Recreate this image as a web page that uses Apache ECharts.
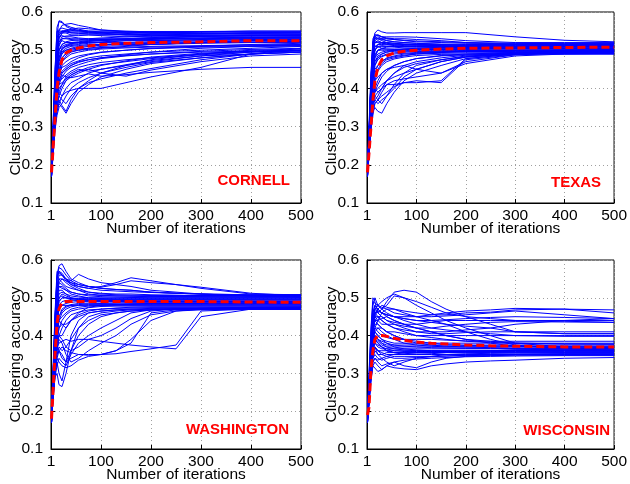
<!DOCTYPE html>
<html><head><meta charset="utf-8">
<script src="https://cdn.jsdelivr.net/npm/echarts@6/dist/echarts.min.js"></script>
<style>html,body{margin:0;padding:0;background:#fff}#c{width:630px;height:484px}</style>
</head><body><div id="c"></div>
<script>
// iteration sample points
const iterA = [1,4,8,12,16,22,30,40,55,75,100,150,200,300,400,500];
const iterB = [1,4,8,12,16,22,30,40,55,75,100,130,160,200,250,300,400,500];
const xTicks = [1,100,200,300,400,500];
const yTicks = [0.1,0.2,0.3,0.4,0.5,0.6];
const panelNames = ['CORNELL','TEXAS','WASHINGTON','WISCONSIN'];

const cornellRuns = [
[0.19,0.29,0.44,0.56,0.575,0.572,0.565,0.56,0.555,0.55,0.548,0.545,0.545,0.545,0.545,0.545],
[0.18,0.28,0.42,0.54,0.577,0.575,0.562,0.556,0.552,0.548,0.545,0.54,0.54,0.542,0.545,0.546],
[0.20,0.30,0.45,0.55,0.555,0.55,0.548,0.545,0.545,0.545,0.543,0.54,0.538,0.54,0.54,0.54],
[0.19,0.27,0.40,0.51,0.55,0.565,0.568,0.57,0.565,0.56,0.553,0.548,0.545,0.548,0.55,0.55],
[0.17,0.26,0.39,0.49,0.53,0.545,0.545,0.54,0.54,0.54,0.538,0.535,0.535,0.536,0.538,0.538],
[0.18,0.28,0.41,0.51,0.535,0.538,0.535,0.535,0.532,0.53,0.53,0.53,0.532,0.535,0.535,0.535],
[0.19,0.26,0.37,0.46,0.51,0.53,0.532,0.53,0.53,0.528,0.528,0.53,0.53,0.532,0.534,0.535],
[0.20,0.27,0.38,0.47,0.515,0.525,0.52,0.52,0.522,0.525,0.527,0.528,0.53,0.53,0.53,0.53],
[0.18,0.25,0.36,0.45,0.50,0.515,0.52,0.52,0.52,0.52,0.522,0.525,0.525,0.528,0.53,0.53],
[0.17,0.24,0.34,0.43,0.48,0.505,0.51,0.512,0.515,0.518,0.52,0.52,0.522,0.525,0.528,0.528],
[0.19,0.26,0.35,0.43,0.47,0.49,0.50,0.505,0.51,0.512,0.515,0.518,0.52,0.522,0.525,0.525],
[0.18,0.25,0.33,0.40,0.44,0.47,0.485,0.495,0.50,0.505,0.51,0.512,0.515,0.52,0.52,0.522],
[0.18,0.24,0.32,0.39,0.43,0.46,0.47,0.478,0.485,0.49,0.495,0.5,0.505,0.51,0.515,0.518],
[0.19,0.26,0.34,0.40,0.43,0.445,0.455,0.465,0.472,0.48,0.485,0.49,0.495,0.50,0.505,0.51],
[0.17,0.23,0.31,0.37,0.41,0.43,0.445,0.455,0.462,0.47,0.478,0.485,0.49,0.497,0.502,0.505],
[0.18,0.24,0.32,0.38,0.42,0.425,0.435,0.445,0.455,0.462,0.468,0.475,0.48,0.49,0.497,0.50],
[0.19,0.25,0.31,0.35,0.38,0.40,0.42,0.435,0.445,0.455,0.462,0.47,0.478,0.488,0.495,0.498],
[0.18,0.23,0.30,0.34,0.36,0.38,0.40,0.415,0.425,0.44,0.45,0.462,0.473,0.485,0.49,0.495],
[0.17,0.22,0.29,0.33,0.35,0.36,0.38,0.40,0.415,0.428,0.44,0.455,0.468,0.48,0.49,0.495],
[0.18,0.24,0.31,0.35,0.37,0.355,0.34,0.37,0.40,0.415,0.425,0.44,0.452,0.475,0.49,0.50],
[0.19,0.25,0.33,0.37,0.39,0.38,0.39,0.395,0.40,0.40,0.40,0.415,0.43,0.455,0.49,0.505],
[0.18,0.24,0.33,0.39,0.42,0.435,0.43,0.428,0.432,0.438,0.432,0.436,0.442,0.45,0.455,0.455],
[0.18,0.26,0.35,0.40,0.41,0.415,0.425,0.435,0.445,0.45,0.44,0.432,0.448,0.47,0.485,0.49],
[0.17,0.23,0.30,0.34,0.36,0.35,0.335,0.36,0.39,0.41,0.43,0.45,0.465,0.48,0.49,0.495],
[0.19,0.28,0.41,0.50,0.54,0.55,0.55,0.548,0.548,0.546,0.546,0.546,0.546,0.548,0.548,0.548],
[0.20,0.30,0.44,0.53,0.555,0.558,0.555,0.552,0.55,0.548,0.546,0.544,0.54,0.538,0.538,0.54],
[0.18,0.27,0.39,0.48,0.52,0.535,0.537,0.538,0.538,0.54,0.54,0.54,0.542,0.543,0.543,0.543],
[0.19,0.26,0.37,0.46,0.50,0.515,0.522,0.525,0.527,0.53,0.532,0.535,0.537,0.539,0.54,0.54],
[0.18,0.25,0.35,0.43,0.47,0.495,0.505,0.51,0.512,0.515,0.515,0.515,0.515,0.518,0.52,0.52],
[0.17,0.24,0.34,0.42,0.46,0.48,0.492,0.5,0.503,0.505,0.507,0.508,0.51,0.512,0.514,0.515],
[0.18,0.26,0.36,0.44,0.48,0.5,0.51,0.515,0.517,0.52,0.52,0.525,0.525,0.527,0.527,0.528],
[0.18,0.25,0.34,0.42,0.45,0.44,0.45,0.46,0.47,0.475,0.48,0.488,0.495,0.505,0.51,0.512],
[0.18,0.27,0.40,0.50,0.54,0.548,0.548,0.546,0.544,0.543,0.542,0.542,0.543,0.544,0.546,0.547],
[0.19,0.28,0.42,0.52,0.545,0.55,0.552,0.553,0.552,0.55,0.55,0.549,0.549,0.549,0.55,0.55],
[0.17,0.25,0.36,0.44,0.48,0.495,0.5,0.503,0.506,0.51,0.513,0.516,0.518,0.52,0.522,0.523],
[0.18,0.26,0.37,0.45,0.49,0.505,0.512,0.517,0.52,0.523,0.525,0.527,0.528,0.53,0.532,0.533],
[0.19,0.25,0.35,0.42,0.45,0.47,0.48,0.49,0.495,0.5,0.503,0.506,0.508,0.51,0.512,0.513],
[0.18,0.24,0.33,0.39,0.42,0.44,0.45,0.46,0.468,0.475,0.48,0.486,0.49,0.495,0.498,0.5],
[0.17,0.24,0.32,0.38,0.40,0.41,0.42,0.43,0.44,0.45,0.46,0.472,0.482,0.492,0.497,0.498],
[0.18,0.26,0.38,0.48,0.53,0.545,0.55,0.555,0.558,0.556,0.553,0.55,0.548,0.545,0.543,0.542],
[0.19,0.27,0.39,0.48,0.52,0.53,0.53,0.528,0.526,0.526,0.527,0.528,0.53,0.532,0.533,0.534],
[0.18,0.25,0.34,0.41,0.44,0.455,0.46,0.47,0.48,0.488,0.494,0.5,0.504,0.508,0.51,0.511],
[0.17,0.23,0.31,0.36,0.38,0.37,0.36,0.38,0.40,0.42,0.44,0.46,0.47,0.485,0.495,0.5],
[0.18,0.24,0.33,0.38,0.39,0.41,0.43,0.44,0.45,0.445,0.45,0.46,0.475,0.49,0.5,0.503],
[0.19,0.26,0.36,0.43,0.46,0.48,0.49,0.497,0.5,0.502,0.505,0.51,0.515,0.52,0.525,0.527],
[0.18,0.27,0.39,0.47,0.5,0.51,0.515,0.518,0.52,0.523,0.526,0.53,0.533,0.536,0.538,0.538]
];
const cornellMean = [0.18,0.24,0.32,0.40,0.44,0.475,0.493,0.5,0.506,0.511,0.515,0.518,0.52,0.522,0.525,0.525];

const texasRuns = [
[0.18,0.28,0.42,0.52,0.545,0.553,0.548,0.545,0.545,0.546,0.546,0.546,0.546,0.535,0.526,0.522],
[0.19,0.29,0.43,0.53,0.54,0.54,0.535,0.53,0.528,0.525,0.522,0.52,0.518,0.518,0.518,0.518],
[0.17,0.27,0.41,0.51,0.535,0.54,0.535,0.532,0.53,0.53,0.528,0.525,0.52,0.515,0.515,0.515],
[0.18,0.28,0.42,0.515,0.53,0.53,0.528,0.525,0.522,0.52,0.518,0.515,0.512,0.512,0.512,0.512],
[0.20,0.30,0.44,0.52,0.525,0.522,0.52,0.518,0.516,0.515,0.513,0.512,0.51,0.51,0.51,0.51],
[0.18,0.27,0.40,0.49,0.52,0.525,0.52,0.515,0.512,0.51,0.51,0.508,0.507,0.507,0.508,0.508],
[0.19,0.26,0.38,0.47,0.50,0.51,0.512,0.51,0.508,0.506,0.505,0.505,0.505,0.505,0.505,0.505],
[0.17,0.25,0.36,0.45,0.49,0.50,0.503,0.503,0.502,0.502,0.502,0.502,0.502,0.503,0.503,0.503],
[0.18,0.26,0.37,0.44,0.47,0.485,0.49,0.495,0.497,0.498,0.5,0.5,0.5,0.5,0.5,0.5],
[0.19,0.25,0.35,0.43,0.46,0.475,0.483,0.488,0.49,0.492,0.494,0.495,0.496,0.497,0.497,0.497],
[0.18,0.24,0.33,0.40,0.44,0.46,0.47,0.478,0.483,0.487,0.49,0.492,0.493,0.494,0.495,0.495],
[0.17,0.23,0.32,0.38,0.42,0.445,0.46,0.47,0.477,0.482,0.486,0.489,0.49,0.492,0.493,0.493],
[0.18,0.24,0.31,0.36,0.39,0.41,0.43,0.445,0.46,0.47,0.478,0.485,0.488,0.49,0.49,0.49],
[0.19,0.25,0.32,0.36,0.37,0.38,0.40,0.42,0.44,0.455,0.465,0.475,0.485,0.49,0.492,0.492],
[0.18,0.23,0.30,0.34,0.35,0.34,0.335,0.36,0.39,0.42,0.44,0.46,0.478,0.49,0.495,0.496],
[0.17,0.22,0.29,0.33,0.36,0.37,0.38,0.39,0.405,0.415,0.42,0.415,0.475,0.488,0.493,0.495],
[0.18,0.24,0.31,0.36,0.38,0.39,0.40,0.41,0.41,0.415,0.415,0.42,0.478,0.49,0.495,0.498],
[0.19,0.24,0.32,0.37,0.40,0.42,0.44,0.45,0.455,0.46,0.45,0.44,0.47,0.488,0.495,0.5],
[0.17,0.23,0.30,0.35,0.37,0.36,0.37,0.38,0.40,0.43,0.45,0.47,0.482,0.492,0.5,0.502],
[0.18,0.26,0.36,0.44,0.48,0.5,0.505,0.508,0.51,0.51,0.51,0.51,0.51,0.51,0.512,0.512],
[0.19,0.27,0.39,0.48,0.51,0.515,0.515,0.514,0.514,0.514,0.514,0.514,0.514,0.514,0.514,0.514],
[0.18,0.28,0.41,0.50,0.525,0.53,0.53,0.53,0.528,0.526,0.524,0.522,0.52,0.518,0.517,0.517],
[0.17,0.25,0.35,0.42,0.46,0.48,0.49,0.495,0.5,0.503,0.505,0.507,0.508,0.508,0.508,0.508],
[0.18,0.24,0.34,0.40,0.43,0.45,0.465,0.475,0.48,0.485,0.49,0.495,0.498,0.5,0.5,0.5],
[0.19,0.26,0.37,0.45,0.485,0.5,0.5,0.5,0.5,0.498,0.497,0.497,0.497,0.498,0.498,0.498],
[0.18,0.25,0.33,0.38,0.40,0.39,0.40,0.42,0.44,0.46,0.47,0.48,0.487,0.49,0.49,0.49],
[0.19,0.28,0.42,0.52,0.54,0.538,0.535,0.535,0.535,0.535,0.534,0.53,0.525,0.52,0.52,0.52],
[0.18,0.27,0.39,0.47,0.5,0.508,0.51,0.51,0.51,0.509,0.508,0.507,0.506,0.506,0.506,0.506],
[0.19,0.28,0.41,0.5,0.52,0.52,0.518,0.516,0.514,0.512,0.511,0.51,0.509,0.509,0.51,0.51],
[0.17,0.25,0.36,0.44,0.47,0.48,0.485,0.49,0.493,0.495,0.497,0.498,0.499,0.5,0.501,0.501],
[0.18,0.26,0.37,0.45,0.48,0.49,0.495,0.498,0.5,0.501,0.502,0.503,0.504,0.505,0.505,0.505],
[0.19,0.25,0.34,0.40,0.42,0.43,0.44,0.45,0.46,0.47,0.478,0.486,0.49,0.494,0.496,0.497],
[0.18,0.24,0.32,0.37,0.39,0.40,0.41,0.42,0.43,0.44,0.45,0.47,0.482,0.49,0.493,0.494],
[0.17,0.23,0.30,0.35,0.36,0.37,0.39,0.41,0.42,0.425,0.43,0.44,0.465,0.485,0.49,0.492],
[0.18,0.28,0.42,0.52,0.535,0.53,0.525,0.52,0.518,0.516,0.515,0.514,0.513,0.513,0.514,0.515],
[0.19,0.27,0.40,0.49,0.51,0.51,0.505,0.503,0.503,0.503,0.503,0.503,0.503,0.504,0.504,0.504],
[0.18,0.25,0.35,0.42,0.45,0.46,0.47,0.48,0.485,0.49,0.492,0.494,0.496,0.497,0.498,0.499],
[0.17,0.24,0.32,0.37,0.38,0.37,0.36,0.38,0.41,0.44,0.46,0.475,0.483,0.49,0.493,0.494],
[0.18,0.26,0.38,0.47,0.5,0.515,0.52,0.52,0.518,0.516,0.514,0.512,0.511,0.51,0.51,0.51],
[0.19,0.27,0.40,0.50,0.53,0.535,0.53,0.525,0.522,0.52,0.518,0.516,0.515,0.515,0.516,0.517]
];
const texasMean = [0.18,0.23,0.30,0.37,0.42,0.455,0.475,0.485,0.493,0.497,0.5,0.503,0.505,0.506,0.507,0.508];

const washingtonRuns = [
[0.18,0.30,0.45,0.56,0.585,0.59,0.57,0.55,0.54,0.53,0.525,0.522,0.52,0.515,0.512,0.51,0.505,0.505],
[0.17,0.29,0.44,0.555,0.58,0.575,0.56,0.545,0.535,0.53,0.525,0.522,0.52,0.515,0.512,0.51,0.508,0.508],
[0.19,0.31,0.46,0.57,0.575,0.56,0.55,0.545,0.562,0.55,0.54,0.535,0.53,0.52,0.515,0.51,0.505,0.502],
[0.18,0.28,0.42,0.53,0.56,0.56,0.55,0.54,0.53,0.525,0.53,0.54,0.553,0.545,0.535,0.528,0.512,0.505],
[0.17,0.27,0.40,0.50,0.54,0.55,0.545,0.54,0.535,0.53,0.528,0.535,0.545,0.54,0.535,0.525,0.51,0.508],
[0.18,0.29,0.43,0.53,0.55,0.54,0.53,0.525,0.52,0.515,0.512,0.51,0.51,0.508,0.507,0.506,0.505,0.505],
[0.19,0.28,0.41,0.51,0.53,0.525,0.52,0.515,0.51,0.508,0.506,0.505,0.505,0.504,0.503,0.503,0.502,0.502],
[0.18,0.27,0.39,0.48,0.51,0.515,0.51,0.505,0.502,0.5,0.5,0.5,0.5,0.5,0.5,0.5,0.5,0.5],
[0.17,0.26,0.37,0.46,0.49,0.50,0.50,0.498,0.497,0.497,0.497,0.497,0.497,0.497,0.497,0.497,0.497,0.497],
[0.18,0.25,0.35,0.44,0.48,0.49,0.493,0.494,0.494,0.494,0.494,0.494,0.494,0.494,0.494,0.494,0.494,0.494],
[0.19,0.26,0.36,0.43,0.47,0.48,0.485,0.488,0.49,0.49,0.49,0.49,0.49,0.49,0.49,0.49,0.49,0.49],
[0.18,0.25,0.34,0.41,0.45,0.47,0.478,0.482,0.485,0.486,0.486,0.486,0.486,0.486,0.486,0.486,0.486,0.486],
[0.17,0.24,0.33,0.40,0.44,0.46,0.47,0.476,0.48,0.482,0.482,0.482,0.482,0.482,0.482,0.482,0.482,0.482],
[0.18,0.25,0.32,0.38,0.42,0.44,0.455,0.465,0.47,0.474,0.477,0.478,0.478,0.478,0.478,0.478,0.478,0.478],
[0.19,0.24,0.31,0.36,0.40,0.42,0.44,0.455,0.462,0.468,0.47,0.472,0.473,0.474,0.474,0.474,0.474,0.474],
[0.18,0.23,0.30,0.33,0.30,0.28,0.33,0.40,0.44,0.46,0.465,0.468,0.47,0.47,0.47,0.47,0.47,0.47],
[0.17,0.24,0.29,0.30,0.27,0.265,0.30,0.36,0.42,0.45,0.46,0.465,0.468,0.47,0.47,0.47,0.47,0.47],
[0.18,0.25,0.31,0.34,0.33,0.32,0.315,0.32,0.335,0.345,0.35,0.352,0.358,0.365,0.375,0.465,0.47,0.472],
[0.17,0.24,0.30,0.34,0.36,0.37,0.36,0.355,0.35,0.348,0.35,0.36,0.38,0.46,0.468,0.47,0.47,0.47],
[0.18,0.25,0.32,0.37,0.38,0.385,0.39,0.385,0.39,0.39,0.385,0.38,0.375,0.37,0.365,0.45,0.47,0.472],
[0.19,0.26,0.33,0.38,0.40,0.39,0.37,0.36,0.37,0.39,0.40,0.42,0.445,0.465,0.47,0.472,0.475,0.475],
[0.18,0.24,0.31,0.35,0.36,0.35,0.33,0.34,0.35,0.35,0.35,0.36,0.39,0.44,0.465,0.47,0.472,0.474],
[0.17,0.23,0.29,0.32,0.34,0.33,0.32,0.35,0.38,0.40,0.42,0.44,0.46,0.468,0.47,0.472,0.475,0.476],
[0.19,0.27,0.38,0.46,0.50,0.51,0.505,0.50,0.498,0.497,0.496,0.496,0.496,0.496,0.496,0.496,0.496,0.496],
[0.18,0.26,0.36,0.42,0.44,0.43,0.42,0.44,0.46,0.475,0.48,0.482,0.484,0.485,0.485,0.485,0.485,0.485],
[0.18,0.29,0.44,0.55,0.57,0.56,0.545,0.535,0.53,0.525,0.52,0.518,0.516,0.514,0.512,0.51,0.508,0.508],
[0.17,0.25,0.33,0.37,0.36,0.34,0.33,0.36,0.40,0.43,0.45,0.46,0.465,0.468,0.47,0.47,0.47,0.47],
[0.18,0.28,0.42,0.52,0.55,0.55,0.54,0.53,0.52,0.51,0.507,0.505,0.504,0.503,0.503,0.503,0.503,0.503],
[0.19,0.29,0.44,0.55,0.57,0.565,0.55,0.535,0.525,0.515,0.51,0.508,0.507,0.506,0.506,0.506,0.506,0.506],
[0.17,0.26,0.38,0.47,0.5,0.505,0.5,0.495,0.492,0.492,0.492,0.492,0.492,0.492,0.492,0.492,0.492,0.492],
[0.18,0.25,0.36,0.44,0.47,0.48,0.48,0.48,0.48,0.48,0.48,0.48,0.48,0.48,0.48,0.48,0.48,0.48],
[0.19,0.27,0.39,0.48,0.52,0.52,0.51,0.5,0.495,0.493,0.492,0.491,0.49,0.49,0.49,0.49,0.488,0.488],
[0.18,0.26,0.37,0.45,0.49,0.5,0.5,0.498,0.496,0.495,0.494,0.493,0.492,0.491,0.49,0.49,0.49,0.49],
[0.17,0.24,0.32,0.38,0.40,0.40,0.42,0.44,0.455,0.465,0.47,0.473,0.475,0.476,0.476,0.476,0.476,0.476],
[0.18,0.25,0.33,0.39,0.42,0.43,0.43,0.44,0.45,0.46,0.465,0.468,0.47,0.472,0.472,0.472,0.472,0.472],
[0.19,0.26,0.34,0.40,0.44,0.45,0.46,0.47,0.475,0.478,0.48,0.482,0.483,0.484,0.484,0.484,0.484,0.484],
[0.18,0.24,0.31,0.35,0.37,0.36,0.37,0.39,0.42,0.44,0.455,0.46,0.465,0.468,0.47,0.47,0.47,0.47],
[0.17,0.23,0.30,0.36,0.39,0.38,0.35,0.33,0.34,0.36,0.38,0.40,0.43,0.455,0.465,0.468,0.47,0.47],
[0.18,0.27,0.40,0.50,0.53,0.53,0.52,0.51,0.505,0.5,0.498,0.497,0.497,0.497,0.497,0.497,0.497,0.497],
[0.19,0.28,0.41,0.51,0.54,0.535,0.525,0.515,0.51,0.505,0.503,0.502,0.501,0.5,0.5,0.5,0.5,0.5],
[0.18,0.25,0.35,0.42,0.45,0.465,0.475,0.48,0.482,0.484,0.485,0.486,0.487,0.487,0.487,0.487,0.487,0.487]
];
const washingtonMean = [0.18,0.25,0.35,0.43,0.47,0.488,0.49,0.49,0.49,0.49,0.49,0.49,0.49,0.49,0.49,0.49,0.489,0.488];

const wisconsinRuns = [
[0.19,0.30,0.42,0.50,0.49,0.46,0.47,0.49,0.515,0.52,0.515,0.49,0.47,0.45,0.43,0.41,0.405,0.405],
[0.18,0.28,0.40,0.48,0.50,0.48,0.47,0.48,0.505,0.50,0.49,0.475,0.46,0.45,0.445,0.44,0.44,0.44],
[0.19,0.29,0.41,0.49,0.495,0.48,0.475,0.47,0.47,0.465,0.46,0.455,0.455,0.46,0.462,0.468,0.47,0.468],
[0.18,0.27,0.38,0.46,0.48,0.47,0.46,0.455,0.45,0.45,0.45,0.455,0.46,0.465,0.468,0.472,0.47,0.46],
[0.17,0.26,0.37,0.44,0.46,0.465,0.46,0.455,0.45,0.445,0.44,0.44,0.442,0.445,0.448,0.45,0.448,0.445],
[0.18,0.27,0.38,0.45,0.47,0.46,0.45,0.44,0.435,0.43,0.43,0.435,0.44,0.44,0.44,0.44,0.438,0.435],
[0.19,0.26,0.36,0.43,0.45,0.44,0.43,0.43,0.43,0.425,0.42,0.42,0.425,0.43,0.435,0.437,0.436,0.435],
[0.18,0.25,0.35,0.42,0.44,0.45,0.45,0.44,0.43,0.42,0.41,0.405,0.405,0.408,0.41,0.41,0.41,0.41],
[0.17,0.24,0.34,0.41,0.43,0.43,0.42,0.41,0.41,0.405,0.40,0.40,0.40,0.40,0.40,0.40,0.40,0.40],
[0.18,0.25,0.34,0.40,0.42,0.41,0.40,0.395,0.39,0.39,0.39,0.39,0.388,0.386,0.385,0.385,0.385,0.385],
[0.19,0.24,0.33,0.39,0.41,0.40,0.39,0.385,0.38,0.38,0.38,0.38,0.38,0.38,0.38,0.38,0.38,0.38],
[0.18,0.23,0.32,0.38,0.40,0.39,0.38,0.375,0.375,0.375,0.375,0.375,0.375,0.375,0.375,0.375,0.375,0.375],
[0.17,0.23,0.31,0.37,0.39,0.385,0.375,0.37,0.37,0.37,0.37,0.37,0.37,0.37,0.37,0.37,0.37,0.37],
[0.18,0.24,0.31,0.36,0.38,0.37,0.365,0.365,0.365,0.365,0.365,0.365,0.365,0.365,0.365,0.365,0.365,0.365],
[0.19,0.23,0.30,0.35,0.37,0.36,0.36,0.36,0.36,0.36,0.36,0.36,0.36,0.36,0.36,0.36,0.36,0.36],
[0.18,0.22,0.29,0.34,0.36,0.35,0.35,0.355,0.355,0.355,0.355,0.355,0.355,0.355,0.355,0.355,0.355,0.355],
[0.17,0.22,0.28,0.33,0.34,0.335,0.34,0.345,0.35,0.35,0.35,0.35,0.35,0.35,0.35,0.35,0.35,0.35],
[0.18,0.22,0.28,0.32,0.33,0.32,0.31,0.32,0.33,0.32,0.315,0.33,0.34,0.345,0.347,0.348,0.348,0.348],
[0.19,0.23,0.29,0.32,0.32,0.305,0.31,0.32,0.315,0.312,0.31,0.32,0.325,0.33,0.333,0.335,0.34,0.342],
[0.18,0.26,0.37,0.45,0.47,0.48,0.49,0.50,0.51,0.5,0.48,0.46,0.44,0.42,0.40,0.38,0.37,0.368],
[0.17,0.25,0.36,0.43,0.45,0.47,0.48,0.475,0.47,0.46,0.45,0.44,0.43,0.41,0.39,0.375,0.365,0.362],
[0.18,0.24,0.35,0.42,0.44,0.44,0.445,0.45,0.44,0.43,0.42,0.41,0.4,0.39,0.38,0.372,0.368,0.366],
[0.19,0.25,0.34,0.40,0.41,0.42,0.42,0.41,0.40,0.39,0.38,0.375,0.372,0.37,0.368,0.365,0.362,0.36],
[0.18,0.23,0.31,0.36,0.37,0.35,0.34,0.33,0.32,0.33,0.34,0.345,0.35,0.352,0.353,0.354,0.355,0.355],
[0.17,0.24,0.33,0.39,0.42,0.44,0.46,0.47,0.46,0.455,0.45,0.45,0.452,0.455,0.46,0.465,0.455,0.445],
[0.18,0.25,0.35,0.43,0.46,0.45,0.44,0.43,0.42,0.415,0.41,0.41,0.41,0.415,0.42,0.43,0.44,0.445],
[0.19,0.24,0.32,0.38,0.39,0.38,0.37,0.36,0.355,0.35,0.35,0.352,0.355,0.358,0.36,0.362,0.362,0.362],
[0.18,0.23,0.30,0.34,0.35,0.34,0.335,0.34,0.345,0.345,0.345,0.345,0.346,0.347,0.348,0.35,0.352,0.352],
[0.18,0.24,0.33,0.39,0.41,0.40,0.39,0.38,0.375,0.372,0.37,0.368,0.367,0.366,0.366,0.366,0.366,0.366],
[0.19,0.25,0.34,0.40,0.42,0.42,0.41,0.40,0.39,0.38,0.375,0.372,0.37,0.37,0.37,0.37,0.37,0.37],
[0.17,0.23,0.31,0.36,0.38,0.375,0.37,0.365,0.36,0.358,0.358,0.358,0.358,0.358,0.358,0.358,0.358,0.358],
[0.18,0.22,0.30,0.35,0.37,0.36,0.355,0.35,0.35,0.352,0.354,0.355,0.356,0.357,0.358,0.36,0.362,0.362],
[0.19,0.26,0.36,0.43,0.46,0.47,0.46,0.45,0.44,0.43,0.42,0.41,0.40,0.39,0.385,0.38,0.378,0.378],
[0.18,0.25,0.35,0.42,0.45,0.45,0.44,0.43,0.42,0.41,0.40,0.395,0.39,0.385,0.382,0.38,0.378,0.377],
[0.17,0.24,0.33,0.38,0.40,0.39,0.38,0.37,0.365,0.362,0.36,0.36,0.36,0.36,0.36,0.36,0.36,0.36],
[0.18,0.23,0.31,0.36,0.37,0.36,0.35,0.345,0.34,0.34,0.342,0.344,0.346,0.348,0.35,0.35,0.35,0.35],
[0.19,0.27,0.38,0.46,0.48,0.47,0.46,0.455,0.45,0.445,0.44,0.435,0.43,0.425,0.42,0.41,0.405,0.405],
[0.18,0.26,0.37,0.44,0.47,0.48,0.47,0.46,0.45,0.44,0.43,0.42,0.415,0.41,0.405,0.4,0.398,0.398],
[0.17,0.23,0.32,0.37,0.39,0.38,0.37,0.36,0.355,0.355,0.355,0.356,0.357,0.358,0.36,0.362,0.365,0.365],
[0.18,0.24,0.33,0.38,0.40,0.39,0.385,0.38,0.37,0.365,0.362,0.36,0.358,0.356,0.355,0.354,0.353,0.353],
[0.19,0.25,0.34,0.41,0.44,0.43,0.42,0.41,0.40,0.39,0.385,0.38,0.376,0.374,0.373,0.372,0.372,0.372],
[0.18,0.23,0.30,0.33,0.34,0.33,0.32,0.325,0.33,0.335,0.338,0.34,0.342,0.344,0.345,0.346,0.347,0.347]
];
const wisconsinMean = [0.19,0.21,0.31,0.36,0.39,0.40,0.40,0.398,0.393,0.388,0.383,0.38,0.378,0.375,0.373,0.372,0.37,0.37];

const panels = [
  {iters: iterA, runs: cornellRuns, mean: cornellMean},
  {iters: iterA, runs: texasRuns, mean: texasMean},
  {iters: iterB, runs: washingtonRuns, mean: washingtonMean},
  {iters: iterB, runs: wisconsinRuns, mean: wisconsinMean}
];

const FONT = '"Liberation Sans", Arial, Helvetica, sans-serif';
const gridPos = [
  {left: 51, top: 12}, {left: 367, top: 12},
  {left: 51, top: 260}, {left: 367, top: 260}
];
const labelPos = [
  {x: 290, y: 181}, {x: 601, y: 183}, {x: 289, y: 430}, {x: 610, y: 431}
];

const grids = [], xAxes = [], yAxes = [], series = [], graphics = [];
panels.forEach((p, k) => {
  grids.push({left: gridPos[k].left, top: gridPos[k].top, width: 250, height: 191,
    show: true, borderColor: '#000', borderWidth: 1, backgroundColor: '#fff'});
  xAxes.push({
    gridIndex: k, type: 'value', min: 0, max: 500, interval: 100,
    name: 'Number of iterations', nameLocation: 'middle', nameGap: 18, nameMoveOverlap: false,
    nameTextStyle: {fontFamily: FONT, fontSize: 15.5, color: '#000'},
    axisLine: {onZero: false, lineStyle: {color: '#000', width: 1}},
    axisTick: {inside: true, length: 4, lineStyle: {color: '#000'}},
    axisLabel: {fontFamily: FONT, fontSize: 15.5, color: '#000', margin: 5,
      formatter: v => (v === 0 ? String(xTicks[0]) : String(v))},
    splitLine: {show: true, lineStyle: {color: '#a0a0a0', type: [1, 3], width: 1}}
  });
  yAxes.push({
    gridIndex: k, type: 'value', min: yTicks[0], max: yTicks[yTicks.length - 1], interval: 0.1,
    name: 'Clustering accuracy', nameLocation: 'middle', nameGap: 27, nameMoveOverlap: false,
    nameTextStyle: {fontFamily: FONT, fontSize: 15.5, color: '#000'},
    axisLine: {onZero: false, lineStyle: {color: '#000', width: 1}},
    axisTick: {inside: true, length: 4, lineStyle: {color: '#000'}},
    axisLabel: {fontFamily: FONT, fontSize: 15.5, color: '#000', margin: 8,
      formatter: v => v.toFixed(1)},
    splitLine: {show: true, lineStyle: {color: '#a0a0a0', type: [1, 3], width: 1}}
  });
  p.runs.forEach(run => {
    series.push({
      type: 'line', xAxisIndex: k, yAxisIndex: k, showSymbol: false, silent: true,
      data: p.iters.map((it, i) => [it, run[i]]),
      lineStyle: {color: '#0000ff', width: 1}, z: 2
    });
  });
  series.push({
    type: 'line', xAxisIndex: k, yAxisIndex: k, showSymbol: false, silent: true,
    data: p.iters.map((it, i) => [it, p.mean[i]]),
    lineStyle: {color: '#ff0000', width: 3, type: [8, 4]}, z: 5
  });
  graphics.push({
    type: 'text', x: labelPos[k].x, y: labelPos[k].y, z: 100,
    style: {text: panelNames[k], fill: '#ff0000', font: 'bold 15px ' + FONT,
      textAlign: 'right', textVerticalAlign: 'middle'}
  });
});

const chart = echarts.init(document.getElementById('c'), null, {renderer: 'canvas'});
chart.setOption({
  animation: false, backgroundColor: '#fff',
  grid: grids, xAxis: xAxes, yAxis: yAxes, series: series, graphic: graphics
});
</script>
</body></html>
